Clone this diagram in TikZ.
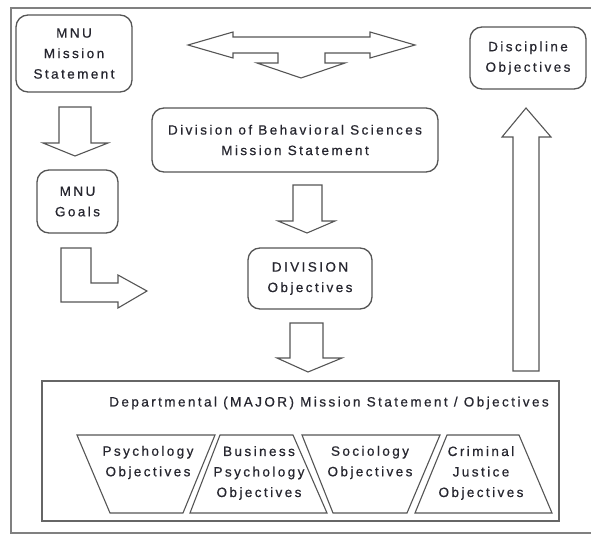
\documentclass[tikz,border=0pt]{standalone}
\usepackage{fontspec}
\setmainfont{Liberation Sans}
\newfontfamily\lblfont[LetterSpace=18,FakeBold=0.6]{Liberation Sans}
\definecolor{edge}{HTML}{555555}
\definecolor{deptedge}{HTML}{666666}
\definecolor{frame}{HTML}{808080}
\definecolor{txt}{HTML}{26262F}
\begin{document}
\begin{tikzpicture}[x=1pt,y=-1pt,
  box/.style={draw=edge, line width=1.3pt, rounded corners=12pt, fill=white, inner sep=0pt},
  blockarrow/.style={draw=edge, line width=1.1pt, fill=white, line join=miter},
  trap/.style={draw=edge, line width=1.1pt, fill=white, line join=miter},
  lbl/.style={font=\lblfont\fontsize{13.5}{20.5}\selectfont, text=txt, align=center, inner sep=0pt},
]
\useasboundingbox (0,0) rectangle (591,535);
\draw[frame, line width=1.6pt] (596,8) -- (11,8) -- (11,533) -- (596,533);

% rounded boxes
\node[box, lbl, minimum width=116pt, minimum height=77pt] (mnu) at (74,53.5) {MNU\\Mission\\Statement};
\node[box, lbl, minimum width=116pt, minimum height=62pt] (disc) at (528,58) {Discipline\\Objectives};
\node[box, lbl, minimum width=286pt, minimum height=64pt] (dbs) at (295,140) {Division of Behavioral Sciences\\Mission Statement};
\node[box, lbl, minimum width=81pt, minimum height=63pt] (goals) at (77.5,201.5) {MNU\\Goals};
\node[box, lbl, minimum width=124pt, minimum height=61pt] (divobj) at (310,278.5) {DIVISION\\Objectives};

% three-way arrow at top
\draw[blockarrow] (188,45) -- (233,32) -- (233,37) -- (370,37) -- (370,32) -- (415,45)
  -- (370,58) -- (370,53) -- (325,53) -- (325,63) -- (345,63) -- (301,78) -- (257,63)
  -- (278,63) -- (278,53) -- (233,53) -- (233,58) -- cycle;

% MNU statement -> goals
\draw[blockarrow] (59,107) -- (91,107) -- (91,143) -- (108,143) -- (75,156) -- (43,143) -- (59,143) -- cycle;
% goals L-arrow
\draw[blockarrow] (61,248) -- (91,248) -- (91,283) -- (118,283) -- (118,275) -- (147,291)
  -- (118,308) -- (118,302) -- (61,302) -- cycle;
% division mission -> division objectives
\draw[blockarrow] (293,185) -- (322,185) -- (322,221) -- (335,221) -- (307,233) -- (278,221) -- (293,221) -- cycle;
% division objectives -> departmental
\draw[blockarrow] (290,323) -- (323,323) -- (323,358) -- (342,358) -- (308,372) -- (277,358) -- (290,358) -- cycle;
% departmental -> discipline (up)
\draw[blockarrow] (513,371) -- (513,137) -- (502,137) -- (526,108) -- (551,137) -- (539,137) -- (539,371) -- cycle;

% departmental box
\node[draw=deptedge, line width=1.1pt, fill=white, minimum width=517pt, minimum height=140pt] (dept) at (300.5,451) {};
\node[lbl] (depttxt) at (329,403) {Departmental (MAJOR) Mission Statement / Objectives};

% trapezoids
\draw[trap] (77,435) -- (215,435) -- (183,513) -- (110,513) -- cycle;
\draw[trap] (220,435) -- (293,435) -- (327,513) -- (190,513) -- cycle;
\draw[trap] (302,435) -- (440,435) -- (407,513) -- (333,513) -- cycle;
\draw[trap] (447,435) -- (519,435) -- (552,513) -- (415,513) -- cycle;

\node[lbl] (psy) at (148,462.5) {Psychology\\Objectives};
\node[lbl] (bus) at (259,473) {Business\\Psychology\\Objectives};
\node[lbl] (soc) at (370,462.5) {Sociology\\Objectives};
\node[lbl] (crim) at (481,473) {Criminal\\Justice\\Objectives};
\end{tikzpicture}
\end{document}
